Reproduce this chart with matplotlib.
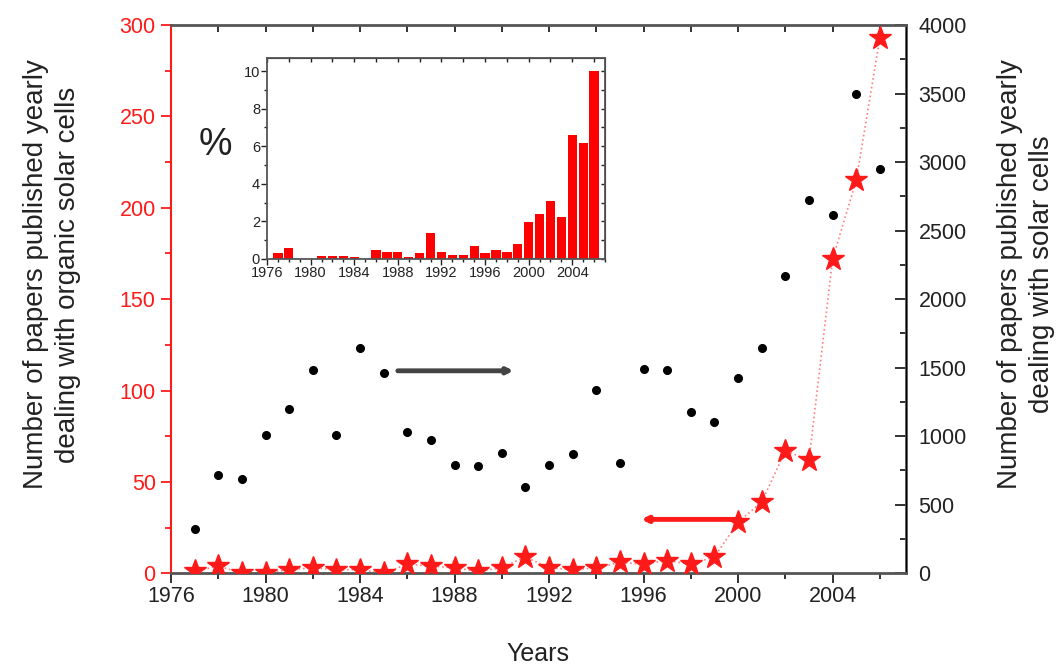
import matplotlib
matplotlib.use("Agg")
import matplotlib.pyplot as plt
from matplotlib.ticker import MultipleLocator, NullFormatter

plt.rcParams['font.family'] = ['Liberation Sans', 'DejaVu Sans']

# données
years = list(range(1977, 2007))
organic = [1, 4, 0, 0, 2, 3, 2, 2, 0, 5, 4, 3, 1, 3, 9, 3, 2, 3, 6, 5,
           7, 5, 9, 28, 39, 67, 62, 172, 215, 293]
total = [326, 720, 688, 1007, 1199, 1482, 1007, 1647, 1462, 1034, 973, 788,
         783, 878, 633, 788, 871, 1338, 803, 1494, 1484, 1178, 1105, 1423,
         1647, 2168, 2720, 2617, 3497, 2947]
percent = [0.32, 0.59, 0, 0, 0.18, 0.18, 0.18, 0.12, 0, 0.48, 0.38, 0.38,
           0.09, 0.32, 1.4, 0.39, 0.2, 0.2, 0.68, 0.32, 0.48, 0.38, 0.77,
           1.97, 2.38, 3.08, 2.24, 6.6, 6.17, 10.0]

red = '#ff1a1a'
grey = '#444444'
txt = '#222222'

fig = plt.figure(figsize=(10.62, 6.64), dpi=100)
ax = fig.add_axes([0.161, 0.1366, 0.692, 0.8257])
ax2 = ax.twinx()
ax.set_zorder(ax2.get_zorder() + 1)
ax.patch.set_visible(False)

# points noirs : toutes les cellules solaires (axe de droite)
ax2.plot(years, total, 'o', color='black', markersize=5.5, linestyle='none')
# étoiles rouges : cellules organiques (axe de gauche)
ax.plot(years, organic, linestyle=':', color='#ff8080', linewidth=1.2, zorder=2)
ax.plot(years, organic, '*', color=red, markersize=17, linestyle='none',
        zorder=3)

ax.set_xlim(1976, 2007.1)
ax.set_ylim(0, 300)
ax2.set_ylim(0, 4000)

# flèches
ax.annotate('', xy=(1990.5, 110.8), xytext=(1985.6, 110.8),
            arrowprops=dict(arrowstyle='-|>', color=grey, lw=3.5,
                            mutation_scale=8, shrinkA=0, shrinkB=0))
ax.annotate('', xy=(1995.9, 29.5), xytext=(2000.0, 29.5),
            arrowprops=dict(arrowstyle='-|>', color=red, lw=3.5,
                            mutation_scale=8, shrinkA=0, shrinkB=0))

# axes
ax.spines['left'].set_color(red)
ax.spines['left'].set_linewidth(1.5)
for s in ['top', 'bottom']:
    ax.spines[s].set_color('#555555')
    ax.spines[s].set_linewidth(2)
ax2.spines['left'].set_visible(False)
ax2.spines['right'].set_color('#555555')
ax2.spines['right'].set_linewidth(2)
ax2.spines['top'].set_visible(False)
ax2.spines['bottom'].set_visible(False)

ax.xaxis.set_major_locator(MultipleLocator(4))
ax.xaxis.set_minor_locator(MultipleLocator(2))
ax.yaxis.set_major_locator(MultipleLocator(50))
ax.yaxis.set_minor_locator(MultipleLocator(25))
ax2.yaxis.set_major_locator(MultipleLocator(500))
ax2.yaxis.set_minor_locator(MultipleLocator(250))

ax.tick_params(axis='y', which='both', direction='out', colors=red,
               labelsize=15.5, width=1.3, pad=4)
ax.tick_params(axis='y', which='major', length=7)
ax.tick_params(axis='y', which='minor', length=4)
ax.tick_params(axis='x', which='both', direction='out', labelsize=15.5,
               width=1.3, colors=txt, pad=2)
ax.tick_params(axis='x', which='major', length=7)
ax.tick_params(axis='x', which='minor', length=4)
ax2.tick_params(axis='y', which='both', direction='in', labelsize=15.5,
                width=1.3, colors=txt, pad=9)
ax2.tick_params(axis='y', which='major', length=8)
ax2.tick_params(axis='y', which='minor', length=4)

# graduations du haut, vers l'intérieur
top = ax.secondary_xaxis('top')
top.xaxis.set_major_locator(MultipleLocator(2))
top.xaxis.set_major_formatter(NullFormatter())
top.tick_params(direction='in', length=5, width=1.3, colors=txt)
top.spines['top'].set_visible(False)

ax.set_ylabel('Number of papers published yearly\ndealing with organic solar cells',
              fontsize=20, color=txt, linespacing=1.3)
ax.yaxis.set_label_coords(-0.122, 0.545)
ax2.set_ylabel('Number of papers published yearly\ndealing with solar cells',
               fontsize=20, color=txt, rotation=90, linespacing=1.3)
ax2.yaxis.set_label_coords(1.124, 0.545)
ax.set_xlabel('Years', fontsize=18, color=txt, labelpad=25)

# encart : pourcentage
ins = fig.add_axes([0.2514, 0.610, 0.3183, 0.3027])
ins.bar(years, percent, width=0.85, color='#ff0000')
ins.set_xlim(1976, 2007)
ins.set_ylim(0, 10.7)
ins.xaxis.set_major_locator(MultipleLocator(4))
ins.xaxis.set_minor_locator(MultipleLocator(1))
ins.yaxis.set_major_locator(MultipleLocator(2))
ins.yaxis.set_minor_locator(MultipleLocator(1))
ins.tick_params(which='both', direction='out', labelsize=10.5, width=1,
                colors=txt, pad=1)
ins.tick_params(which='major', length=4)
ins.tick_params(which='minor', length=2)
for s in ins.spines.values():
    s.set_color('#555555')
    s.set_linewidth(1.3)
ins_top = ins.secondary_xaxis('top')
ins_top.xaxis.set_major_locator(MultipleLocator(2))
ins_top.xaxis.set_major_formatter(NullFormatter())
ins_top.tick_params(direction='in', length=3, width=1, colors=txt)
ins_right = ins.secondary_yaxis('right')
ins_right.yaxis.set_major_locator(MultipleLocator(1))
ins_right.yaxis.set_major_formatter(NullFormatter())
ins_right.tick_params(direction='in', length=3, width=1, colors=txt)
fig.text(0.2025, 0.7816, '%', fontsize=27, ha='center', va='center',
         color=txt)

fig.savefig('out.png', dpi=100)
